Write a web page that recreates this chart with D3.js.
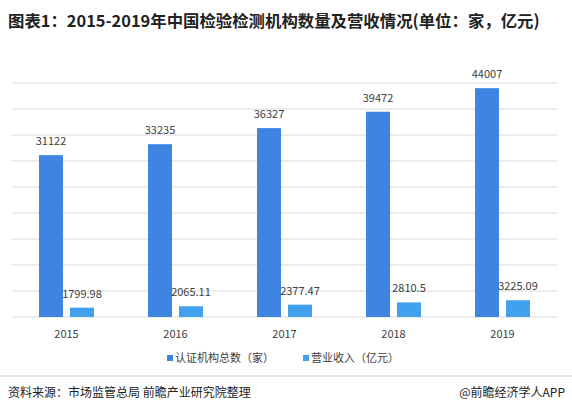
<!DOCTYPE html><html><head><meta charset="utf-8"><script src="https://cdn.jsdelivr.net/npm/d3@7"></script>
<style>body{margin:0;background:#fff}text{font-family:"Noto Sans CJK SC","Noto Sans",sans-serif}</style></head><body><svg id="c" width="572" height="417"></svg><script>
const years=["2015","2016","2017","2018","2019"];
const orgs=[31122,33235,36327,39472,44007];
const revenue=[1799.98,2065.11,2377.47,2810.5,3225.09];
const revLabels=["1799.98","2065.11","2377.47","2810.5","3225.09"];
const yTicks=[0,5000,10000,15000,20000,25000,30000,35000,40000,45000];
const svg=d3.select("#c");
svg.append("text").attr("x",8).attr("y",27).attr("font-size",16.4).attr("font-weight","bold").attr("fill","#222").text("图表1：2015-2019年中国检验检测机构数量及营收情况(单位：家，亿元)");
const x=d3.scaleBand().domain(years).range([12,557]);
const y=d3.scaleLinear().domain([0,45000]).range([317,83]);
svg.append("g").selectAll("line").data(yTicks).join("line").attr("x1",12).attr("x2",557).attr("y1",d=>y(d)).attr("y2",d=>y(d)).attr("stroke","#d9d9d9").attr("stroke-width",1);
const bw=24;
const c1="#3f84e0",c2="#42a1ee";
svg.append("g").selectAll("rect").data(orgs).join("rect").attr("x",(d,i)=>x(years[i])+27).attr("width",bw).attr("y",d=>y(d)).attr("height",d=>317-y(d)).attr("fill",c1);
svg.append("g").selectAll("rect").data(revenue).join("rect").attr("x",(d,i)=>x(years[i])+58).attr("width",bw).attr("y",d=>y(d)).attr("height",d=>317-y(d)).attr("fill",c2);
svg.append("g").selectAll("text").data(orgs).join("text").attr("x",(d,i)=>x(years[i])+39).attr("y",d=>y(d)-10).attr("text-anchor","middle").attr("font-size",11).attr("fill","#404040").text(d=>d);
svg.append("g").selectAll("text").data(revenue).join("text").attr("x",(d,i)=>x(years[i])+70).attr("y",d=>y(d)-10).attr("text-anchor","middle").attr("font-size",11).attr("fill","#404040").text((d,i)=>revLabels[i]);
svg.append("g").selectAll("text").data(years).join("text").attr("x",d=>x(d)+x.bandwidth()/2).attr("y",338).attr("text-anchor","middle").attr("font-size",11).attr("fill","#404040").text(d=>d);
const lg=[["认证机构总数（家）",c1,167],["营业收入（亿元）",c2,303]];
lg.forEach(([t,c,lx])=>{svg.append("rect").attr("x",lx).attr("y",355).attr("width",6).attr("height",6).attr("fill",c);
svg.append("text").attr("x",lx+8).attr("y",362).attr("font-size",11).attr("fill","#404040").text(t);});
svg.append("line").attr("x1",0).attr("x2",572).attr("y1",376).attr("y2",376).attr("stroke","#ccc");
svg.append("text").attr("x",8).attr("y",397).attr("font-size",12).attr("fill","#222").text("资料来源：市场监管总局 前瞻产业研究院整理");
svg.append("text").attr("x",565).attr("y",397).attr("text-anchor","end").attr("font-size",12).attr("fill","#222").text("@前瞻经济学人APP");
</script></body></html>
